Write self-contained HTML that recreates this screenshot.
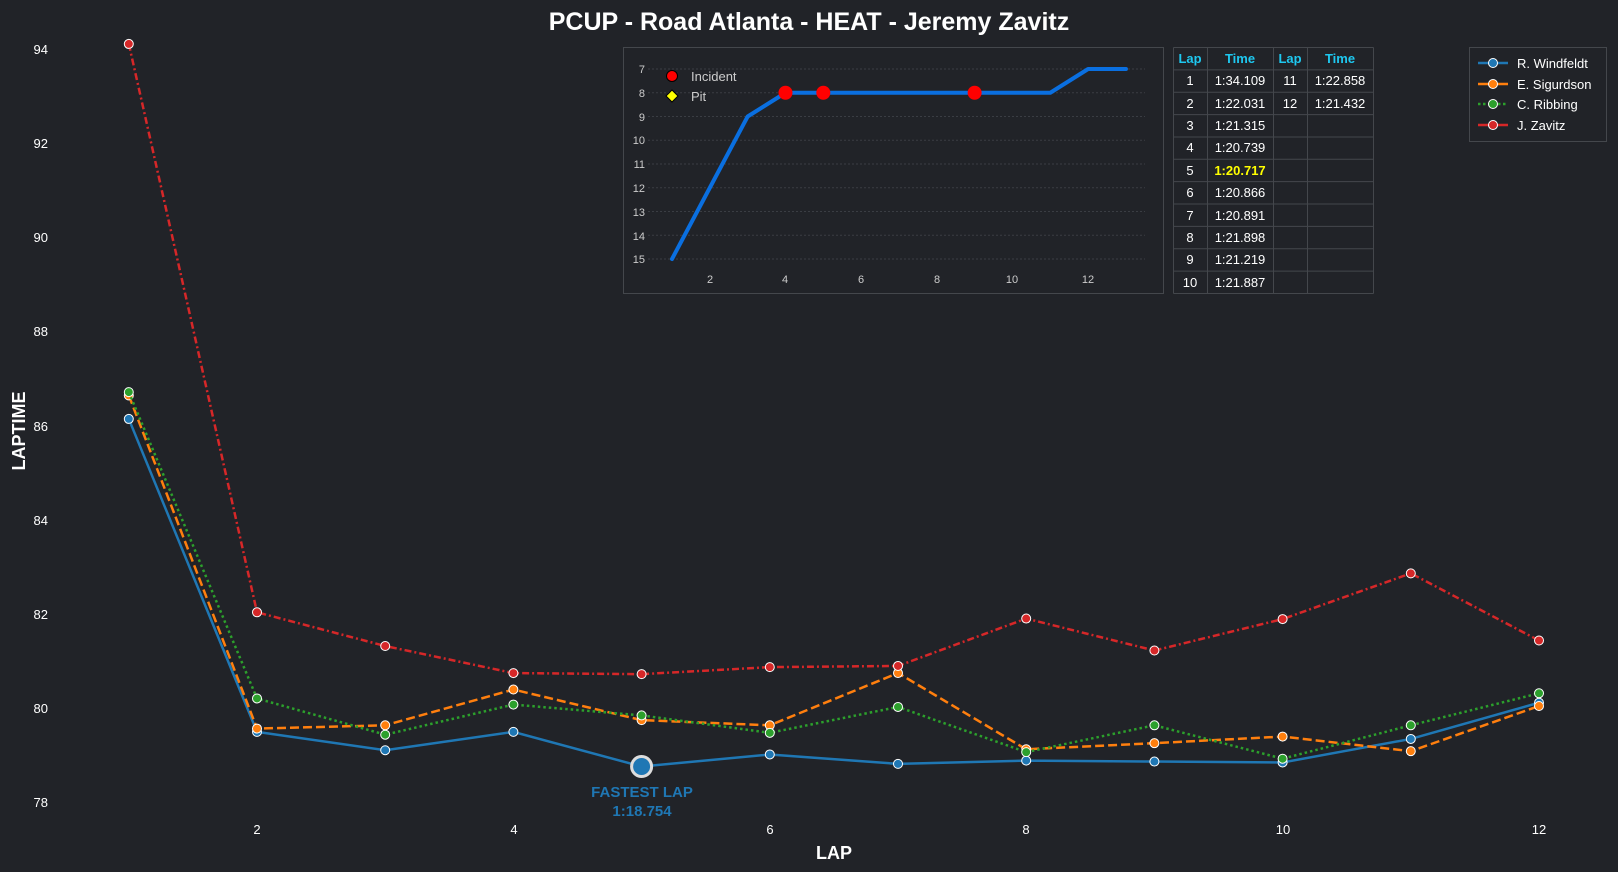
<!DOCTYPE html>
<html><head><meta charset="utf-8"><style>
html,body{margin:0;padding:0;background:#212328;}
svg{display:block;font-family:"Liberation Sans",sans-serif;}
</style></head><body>
<svg id="s" width="1618" height="872" viewBox="0 0 1618 872">
<rect width="1618" height="872" fill="#212328"/>
<text x="809" y="30" text-anchor="middle" fill="#fff" font-size="25" font-weight="bold">PCUP - Road Atlanta - HEAT - Jeremy Zavitz</text>
<g fill="#fff" font-size="13" text-anchor="end">
<text x="48" y="54">94</text><text x="48" y="148">92</text><text x="48" y="242">90</text><text x="48" y="336">88</text>
<text x="48" y="431">86</text><text x="48" y="525">84</text><text x="48" y="619">82</text><text x="48" y="713">80</text><text x="48" y="807">78</text>
</g>
<g fill="#fff" font-size="13" text-anchor="middle">
<text x="257" y="834">2</text><text x="514" y="834">4</text><text x="770" y="834">6</text><text x="1026" y="834">8</text><text x="1283" y="834">10</text><text x="1539" y="834">12</text>
</g>
<text x="834" y="859" text-anchor="middle" fill="#fff" font-size="18" font-weight="bold">LAP</text>
<text transform="translate(25,431) rotate(-90)" text-anchor="middle" fill="#fff" font-size="18" font-weight="bold">LAPTIME</text>
<g id="series"></g>
<circle cx="641.6" cy="766.5" r="10" fill="#1f77b4" stroke="#ddd" stroke-width="3"/>
<text x="642" y="797" text-anchor="middle" fill="#1f77b4" font-size="15" font-weight="bold">FASTEST LAP</text>
<text x="642" y="816" text-anchor="middle" fill="#1f77b4" font-size="15" font-weight="bold">1:18.754</text>

<!-- inset -->
<rect x="623.5" y="47.5" width="540" height="246" fill="#212328" stroke="#44474c"/>
<g id="inset"></g>
<g fill="#ccc" font-size="11" text-anchor="end">
<text x="645" y="73">7</text><text x="645" y="97">8</text><text x="645" y="121">9</text><text x="645" y="144">10</text><text x="645" y="168">11</text><text x="645" y="192">12</text><text x="645" y="216">13</text><text x="645" y="240">14</text><text x="645" y="263">15</text>
</g>
<g fill="#ccc" font-size="11" text-anchor="middle">
<text x="710" y="283">2</text><text x="785" y="283">4</text><text x="861" y="283">6</text><text x="937" y="283">8</text><text x="1012" y="283">10</text><text x="1088" y="283">12</text>
</g>
<circle cx="672" cy="76" r="5.5" fill="red" stroke="#000" stroke-width="1"/>
<text x="691" y="81" fill="#ccc" font-size="13">Incident</text>
<path d="M672 90 L678 96 L672 102 L666 96 Z" fill="yellow" stroke="#000" stroke-width="1"/>
<text x="691" y="101" fill="#ccc" font-size="13">Pit</text>

<!-- table -->
<g id="tbl" stroke="#44474c" fill="none"></g>
<g font-size="13" text-anchor="middle" fill="#fff">
<g fill="#1ec8f0" font-weight="bold"><text x="1190" y="63">Lap</text><text x="1240" y="63">Time</text><text x="1290" y="63">Lap</text><text x="1340" y="63">Time</text></g>
<text x="1190" y="85">1</text><text x="1240" y="85">1:34.109</text><text x="1290" y="85">11</text><text x="1340" y="85">1:22.858</text>
<text x="1190" y="108">2</text><text x="1240" y="108">1:22.031</text><text x="1290" y="108">12</text><text x="1340" y="108">1:21.432</text>
<text x="1190" y="130">3</text><text x="1240" y="130">1:21.315</text>
<text x="1190" y="152">4</text><text x="1240" y="152">1:20.739</text>
<text x="1190" y="175">5</text><text x="1240" y="175" fill="#ffff00" font-weight="bold">1:20.717</text>
<text x="1190" y="197">6</text><text x="1240" y="197">1:20.866</text>
<text x="1190" y="220">7</text><text x="1240" y="220">1:20.891</text>
<text x="1190" y="242">8</text><text x="1240" y="242">1:21.898</text>
<text x="1190" y="264">9</text><text x="1240" y="264">1:21.219</text>
<text x="1190" y="287">10</text><text x="1240" y="287">1:21.887</text>
</g>

<!-- legend -->
<rect x="1469.5" y="47.5" width="137" height="94" fill="#212328" stroke="#44474c"/>
<g font-size="13" fill="#fff">
<line x1="1478" y1="63" x2="1508" y2="63" stroke="#1f77b4" stroke-width="2.5"/><circle cx="1493" cy="63" r="4.5" fill="#1f77b4" stroke="#fff"/><text x="1517" y="68">R. Windfeldt</text>
<line x1="1478" y1="84" x2="1508" y2="84" stroke="#ff7f0e" stroke-width="2.5"/><circle cx="1493" cy="84" r="4.5" fill="#ff7f0e" stroke="#fff"/><text x="1517" y="89">E. Sigurdson</text>
<line x1="1478" y1="104" x2="1508" y2="104" stroke="#2ca02c" stroke-width="2.5" stroke-dasharray="2.5,2.5"/><circle cx="1493" cy="104" r="4.5" fill="#2ca02c" stroke="#fff"/><text x="1517" y="109">C. Ribbing</text>
<line x1="1478" y1="125" x2="1508" y2="125" stroke="#d62728" stroke-width="2.5"/><circle cx="1493" cy="125" r="4.5" fill="#d62728" stroke="#fff"/><text x="1517" y="130">J. Zavitz</text>
</g>
</svg>
<script>
var NS="http://www.w3.org/2000/svg";
function el(p,t,a){var e=document.createElementNS(NS,t);for(var k in a)e.setAttribute(k,a[k]);p.appendChild(e);return e;}
var X=function(l){return 128.8+(l-1)*128.2;},Y=function(v){return 802-(v-78)*47.06;};
var S=[
["#d62728","7,3,2,3",[94.109,82.031,81.315,80.739,80.717,80.866,80.891,81.898,81.219,81.887,82.858,81.432]],
["#2ca02c","2.5,3",[86.71,80.20,79.43,80.07,79.84,79.47,80.02,79.06,79.63,78.92,79.63,80.31]],
["#ff7f0e","9,4",[86.64,79.56,79.63,80.39,79.74,79.63,80.74,79.12,79.25,79.39,79.08,80.04]],
["#1f77b4","",[86.14,79.49,79.10,79.49,78.754,79.01,78.81,78.88,78.86,78.84,79.34,80.11]]];
var g=document.getElementById("series");
S.slice().reverse().forEach(function(s){var pts=s[2].map(function(v,i){return X(i+1)+","+Y(v);}).join(" ");
var a={points:pts,fill:"none",stroke:s[0],"stroke-width":2.5};if(s[1])a["stroke-dasharray"]=s[1];el(g,"polyline",a);
s[2].forEach(function(v,i){el(g,"circle",{cx:X(i+1),cy:Y(v),r:4.5,fill:s[0],stroke:"#fff","stroke-width":1});});});
var ig=document.getElementById("inset");
var IX=function(l){return 672+(l-1)*37.83;},IY=function(p){return 69+(p-7)*23.75;};
for(var p=7;p<=15;p++)el(ig,"line",{x1:648,x2:1145,y1:IY(p),y2:IY(p),stroke:"#3a3d43","stroke-dasharray":"2,2"});
var pos=[15,12,9,8,8,8,8,8,8,8,8,7,7];
el(ig,"polyline",{points:pos.map(function(p,i){return IX(i+1)+","+IY(p);}).join(" "),fill:"none",stroke:"#0a6fe0","stroke-width":4,"stroke-linecap":"round","stroke-linejoin":"round"});
[4,5,9].forEach(function(l){el(ig,"circle",{cx:IX(l),cy:IY(8),r:7,fill:"red"});});
var t=document.getElementById("tbl");
var cols=[1173.5,1207.5,1273.5,1307.5,1373.5];
for(var r=0;r<=11;r++){var y=47.5+r*22.36;el(t,"line",{x1:1173.5,x2:1373.5,y1:y,y2:y});}
cols.forEach(function(c){el(t,"line",{x1:c,x2:c,y1:47.5,y2:293.5});});
</script>
</body></html>
